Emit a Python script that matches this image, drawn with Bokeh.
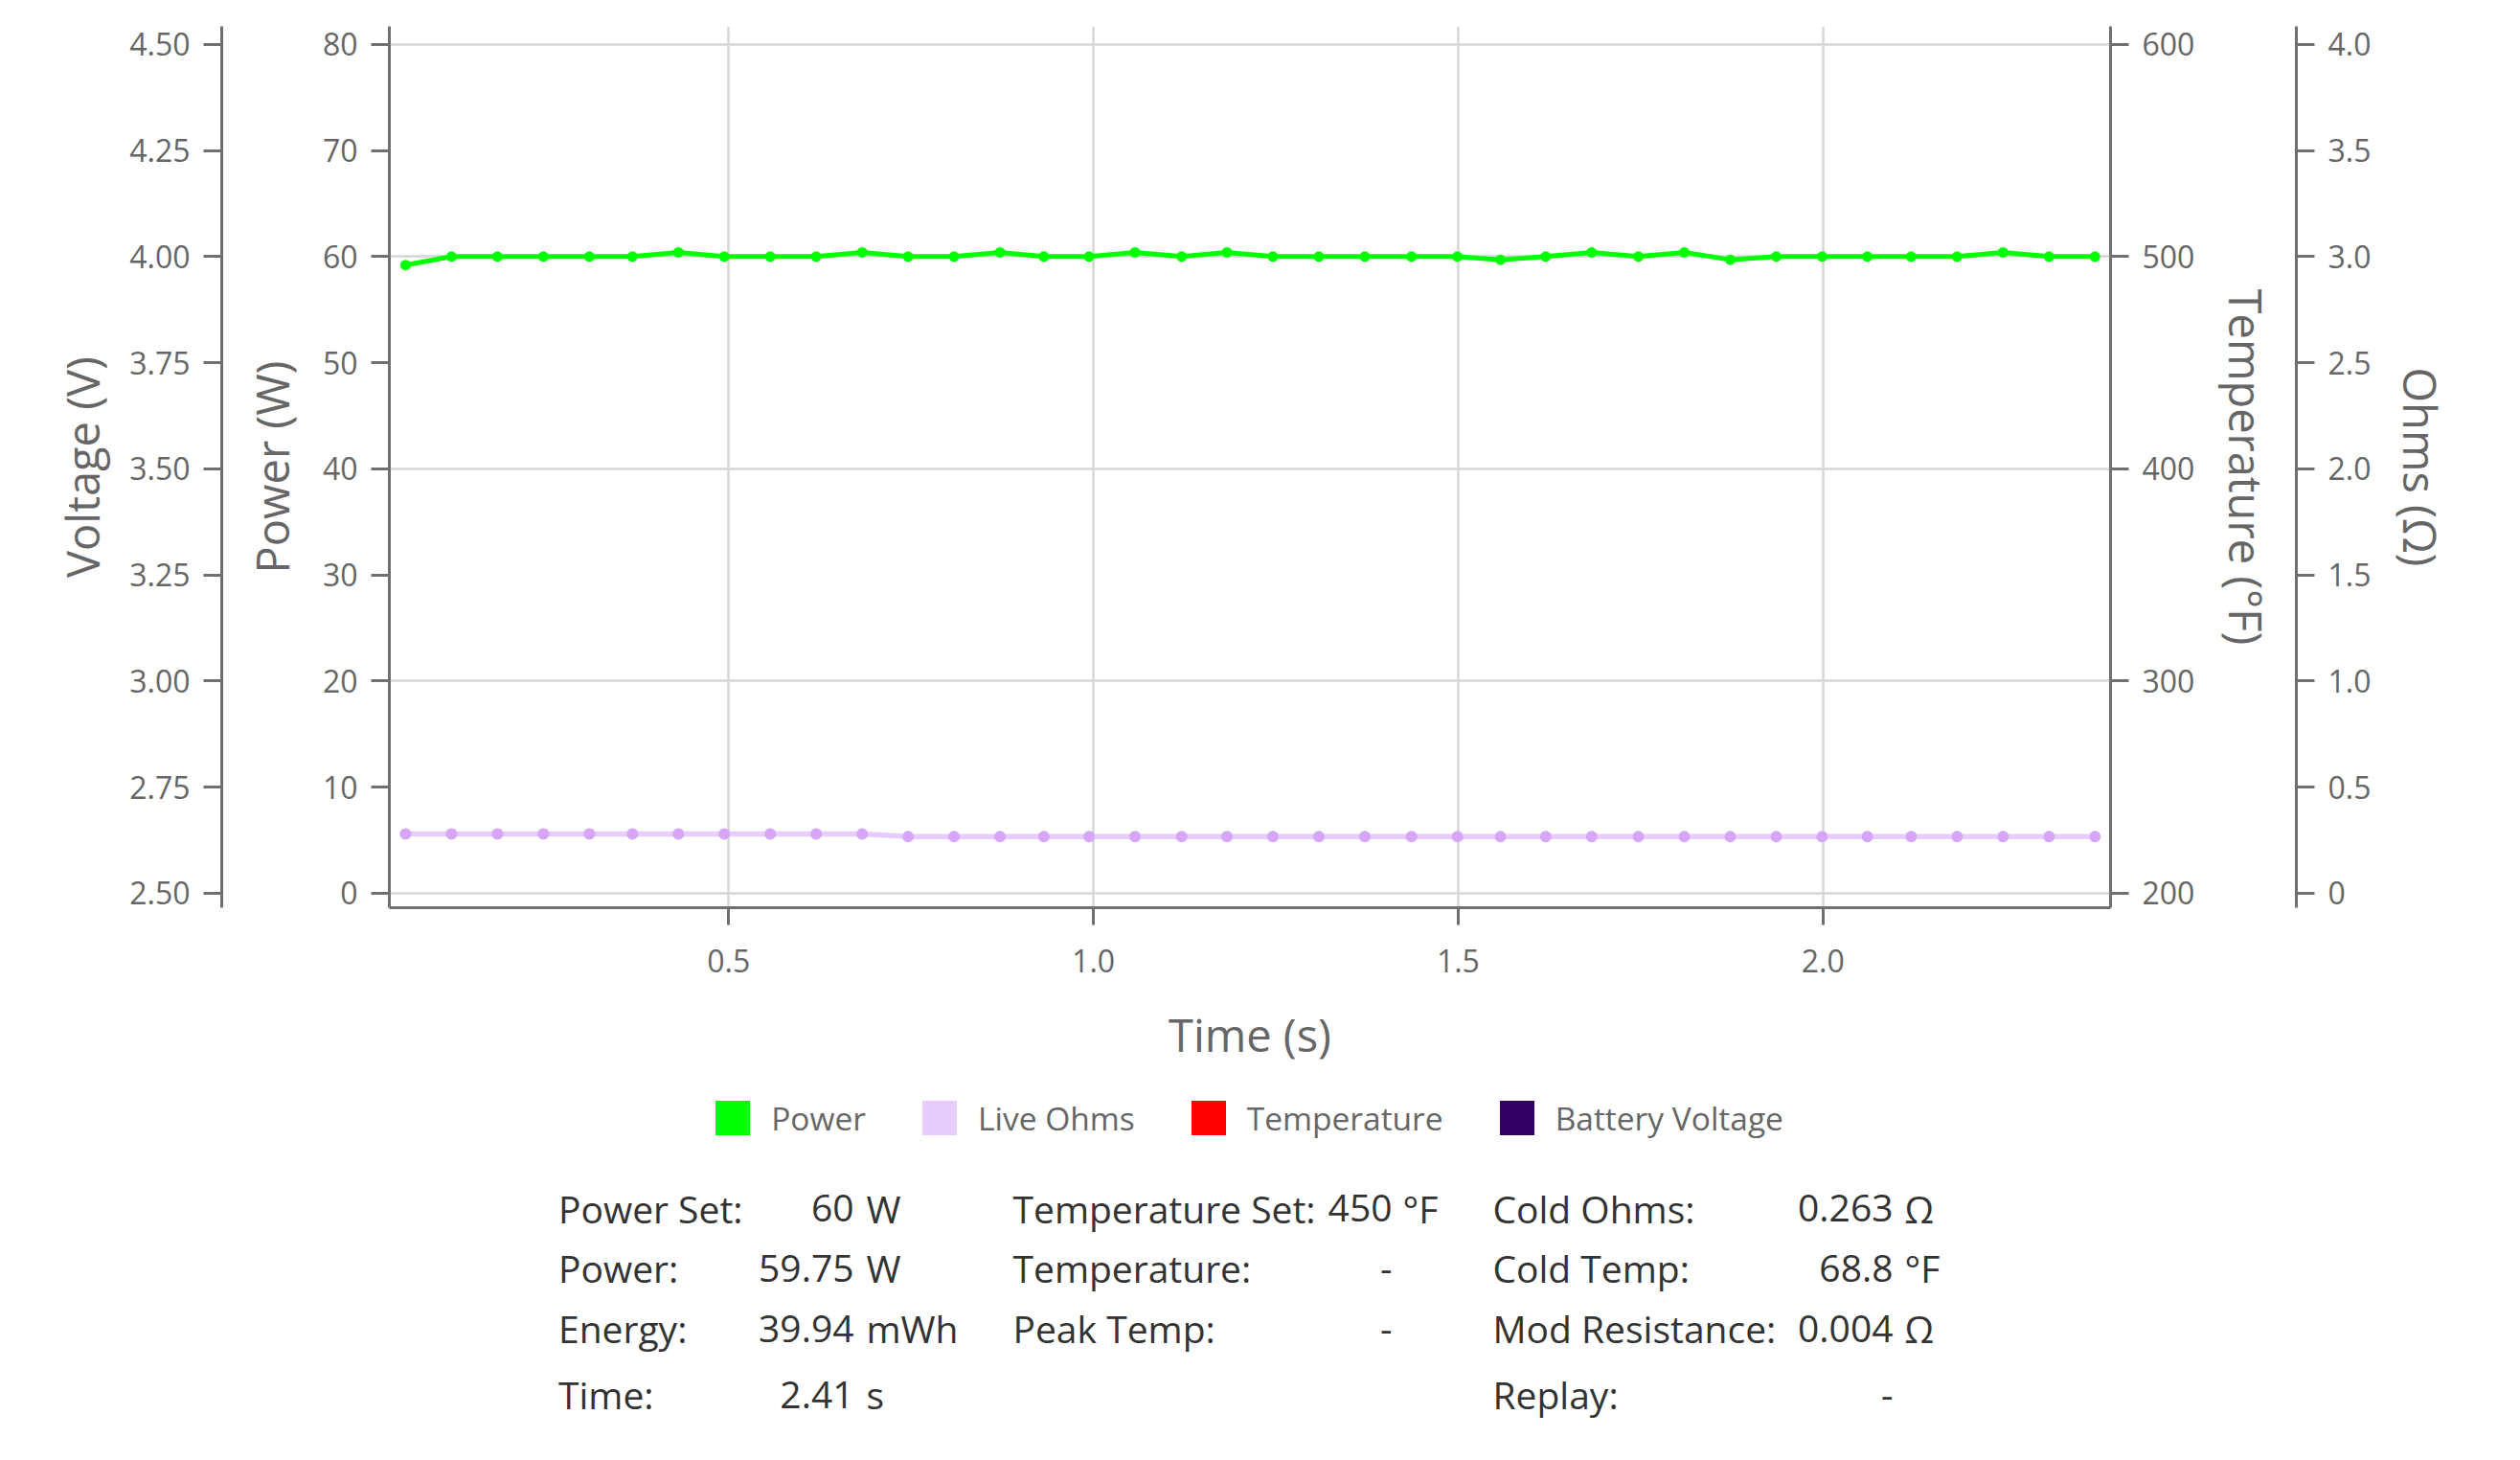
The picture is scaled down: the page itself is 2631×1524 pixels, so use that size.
from bokeh.plotting import figure
from bokeh.models import (Range1d, LinearAxis, FixedTicker, CustomJSTickFormatter,
                          Legend, LegendItem)
from bokeh.layouts import column
from bokeh.embed import file_html
from bokeh.resources import INLINE
from bokeh.core.properties import value

# ---------------- data ----------------
time_s = [0.057, 0.120, 0.183, 0.246, 0.309, 0.368, 0.431, 0.494, 0.557, 0.620,
          0.683, 0.746, 0.809, 0.872, 0.932, 0.994, 1.057, 1.121, 1.183, 1.246,
          1.309, 1.372, 1.436, 1.499, 1.558, 1.620, 1.683, 1.747, 1.810, 1.873,
          1.936, 1.999, 2.061, 2.121, 2.184, 2.247, 2.310, 2.373]
power_w = [59.2, 60.0, 60.0, 60.0, 60.0, 60.0, 60.4, 60.0, 60.0, 60.0,
           60.4, 60.0, 60.0, 60.4, 60.0, 60.0, 60.4, 60.0, 60.4, 60.0,
           60.0, 60.0, 60.0, 60.0, 59.7, 60.0, 60.4, 60.0, 60.4, 59.7,
           60.0, 60.0, 60.0, 60.0, 60.0, 60.4, 60.0, 60.0]
live_ohms = [0.279, 0.279, 0.279, 0.279, 0.279, 0.279, 0.279, 0.279, 0.279, 0.279,
             0.279, 0.267, 0.267, 0.267, 0.267, 0.267, 0.267, 0.267, 0.267, 0.267,
             0.267, 0.267, 0.267, 0.267, 0.267, 0.267, 0.267, 0.267, 0.267, 0.267,
             0.267, 0.267, 0.267, 0.267, 0.267, 0.267, 0.267, 0.267]
temperature_f = []
battery_v = []

series_names = ["Power", "Live Ohms", "Temperature", "Battery Voltage"]
series_colors = ["#00ff00", "#e6ccff", "#ff0000", "#330066"]

time_ticks = [0.5, 1.0, 1.5, 2.0]
power_ticks = [0, 10, 20, 30, 40, 50, 60, 70, 80]
voltage_ticks = [2.5, 2.75, 3.0, 3.25, 3.5, 3.75, 4.0, 4.25, 4.5]
temp_ticks = [200, 300, 400, 500, 600]
ohm_ticks = [0, 0.5, 1.0, 1.5, 2.0, 2.5, 3.0, 3.5, 4.0]

col1_labels = ["Power Set:", "Power:", "Energy:", "Time:"]
col1_values = ["60", "59.75", "39.94", "2.41"]
col1_units = ["W", "W", "mWh", "s"]
col2_labels = ["Temperature Set:", "Temperature:", "Peak Temp:", ""]
col2_values = ["450", "-", "-", ""]
col2_units = ["°F", "", "", ""]
col3_labels = ["Cold Ohms:", "Cold Temp:", "Mod Resistance:", "Replay:"]
col3_values = ["0.263", "68.8", "0.004", "-"]
col3_units = ["Ω", "°F", "Ω", ""]

# ---------------- style ----------------
FONT = "Open Sans"
GREY = "#666666"
AXIS = "#707070"
GRID = "#d6d6d6"

W = 2623
FL, FR = 406, 2203          # frame left / right (page px)
FT, FB = 27, 947            # frame top / bottom (page px)
H = 1117

p = figure(width=W, height=H, output_backend="svg", toolbar_location=None,
           x_range=Range1d(0.0348, 2.3943), y_range=Range1d(-1.373, 81.70),
           min_border_left=FL, min_border_right=W - FR, min_border_top=FT,
           min_border_bottom=H - FB)
p.outline_line_color = None
p.background_fill_color = "white"
p.border_fill_color = "white"

p.extra_y_ranges = {
    "volt": Range1d(2.4657, 4.5425),
    "temp": Range1d(193.13, 608.5),
    "ohm": Range1d(-0.0687, 4.085),
}


def style_axis(ax, label, ticks, fmt_code, label_standoff):
    ax.ticker = FixedTicker(ticks=ticks)
    ax.formatter = CustomJSTickFormatter(code=fmt_code)
    ax.axis_label = label
    ax.axis_label_text_font = FONT
    ax.axis_label_text_font_size = "47px"
    ax.axis_label_text_font_style = "normal"
    ax.axis_label_text_color = GREY
    ax.axis_label_standoff = label_standoff
    ax.major_label_text_font = FONT
    ax.major_label_text_font_size = "32px"
    ax.major_label_text_color = GREY
    ax.major_label_standoff = 14
    ax.axis_line_color = AXIS
    ax.axis_line_width = 3
    ax.major_tick_line_color = AXIS
    ax.major_tick_line_width = 3
    ax.major_tick_out = 19
    ax.major_tick_in = 0
    ax.minor_tick_line_color = None
    ax.minor_tick_out = 0
    ax.minor_tick_in = 0


def spacer(width, range_name, at):
    # a blank axis (one white tick, empty label) that only reserves room
    # between two stacked axes
    ax = LinearAxis(y_range_name=range_name, ticker=FixedTicker(ticks=[at]),
                    axis_label=None)
    ax.major_label_overrides = {at: ""}
    ax.major_label_text_alpha = 0
    ax.major_label_text_font_size = "1px"
    ax.axis_line_color = None
    ax.major_tick_line_color = "white"
    ax.major_tick_line_width = 1
    ax.minor_tick_line_color = None
    ax.major_tick_out = width
    ax.major_tick_in = 0
    ax.minor_tick_out = 0
    ax.major_label_standoff = 0
    return ax


# x axis
xa = p.xaxis[0]
style_axis(xa, "Time (s)", time_ticks, "return tick.toFixed(1)", 30)
xa.major_tick_out = 18
xa.major_label_standoff = 25

# left axes: power (nearest), spacer, voltage
pa = p.yaxis[0]
style_axis(pa, "Power (W)", power_ticks, "return tick.toFixed(0)", 18)
p.add_layout(spacer(17, "default", 0), "left")
va = LinearAxis(y_range_name="volt")
style_axis(va, "Voltage (V)", voltage_ticks, "return tick.toFixed(2)", 14)
p.add_layout(va, "left")

# right axes: temperature (nearest), spacer, ohms
ta = LinearAxis(y_range_name="temp")
style_axis(ta, "Temperature (°F)", temp_ticks, "return tick.toFixed(0)", 19)
p.add_layout(ta, "right")
p.add_layout(spacer(17, "temp", 200), "right")
oa = LinearAxis(y_range_name="ohm")
style_axis(oa, "Ohms (Ω)", ohm_ticks,
           "return tick == 0 ? '0' : tick.toFixed(1)", 16)
p.add_layout(oa, "right")

# grids (horizontal lines follow the temperature ticks)
p.xgrid.ticker = FixedTicker(ticks=time_ticks)
p.ygrid.ticker = FixedTicker(ticks=[(t - 200) / 5 for t in temp_ticks])
for g in (p.xgrid, p.ygrid):
    g.grid_line_color = GRID
    g.grid_line_width = 2.5

# series
p.line(time_s, live_ohms, y_range_name="ohm", line_color=series_colors[1],
       line_width=5.5)
p.scatter(time_s, live_ohms, y_range_name="ohm", size=12,
          fill_color="#d7a6fb", line_color=None)
p.line(time_s, power_w, line_color=series_colors[0], line_width=5)
p.scatter(time_s, power_w, size=11, fill_color=series_colors[0], line_color=None)
p.line(time_s[:len(temperature_f)], temperature_f, y_range_name="temp",
       line_color=series_colors[2], line_width=5)
p.line(time_s[:len(battery_v)], battery_v, y_range_name="volt",
       line_color=series_colors[3], line_width=5)

# ---------------- legend + stats table (page-pixel coordinates) ----------------
ST = H                      # top of second figure on the page
SB = 1517                   # bottom of second figure on the page
s = figure(width=W, height=SB - ST, output_backend="svg", toolbar_location=None,
           x_range=Range1d(FL, FR), y_range=Range1d(SB, ST),
           min_border_left=FL, min_border_right=W - FR, min_border_top=0,
           min_border_bottom=0, x_axis_location=None, y_axis_location=None)
s.grid.visible = False
s.outline_line_color = None
s.background_fill_color = "white"
s.border_fill_color = "white"

nan = float("nan")
items = []
for name, col in zip(series_names, series_colors):
    r = s.quad(left=[nan], right=[nan], top=[nan], bottom=[nan],
               fill_color=col, line_color=None)
    items.append(LegendItem(label=name, renderers=[r]))
legend = Legend(items=items, orientation="horizontal",
                location=(742.2 - FL, SB - 1189.5),
                glyph_width=45, glyph_height=45, label_standoff=18, spacing=54,
                padding=0, margin=0, border_line_color=None,
                background_fill_alpha=0, label_text_font=FONT,
                label_text_font_size="33.5px", label_text_color=GREY)
s.add_layout(legend)

row_y = [1260.7, 1323.3, 1386.3, 1455.0]
columns = [
    (col1_labels, col1_values, col1_units, 582.5, 891, 904),
    (col2_labels, col2_values, col2_units, 1057, 1453, 1464),
    (col3_labels, col3_values, col3_units, 1558, 1976, 1988),
]
for labels, vals, units, xl, xv, xu in columns:
    for txts, xpos, align in ((labels, xl, "left"), (vals, xv, "right"),
                              (units, xu, "left")):
        s.text(x=[xpos] * len(txts), y=row_y[:len(txts)], text=txts,
               text_align=align, text_baseline="alphabetic",
               text_font=value(FONT), text_font_size="39px",
               text_color="#333333")

layout = column(p, s)
open("out.html", "w").write(file_html(layout, INLINE))
